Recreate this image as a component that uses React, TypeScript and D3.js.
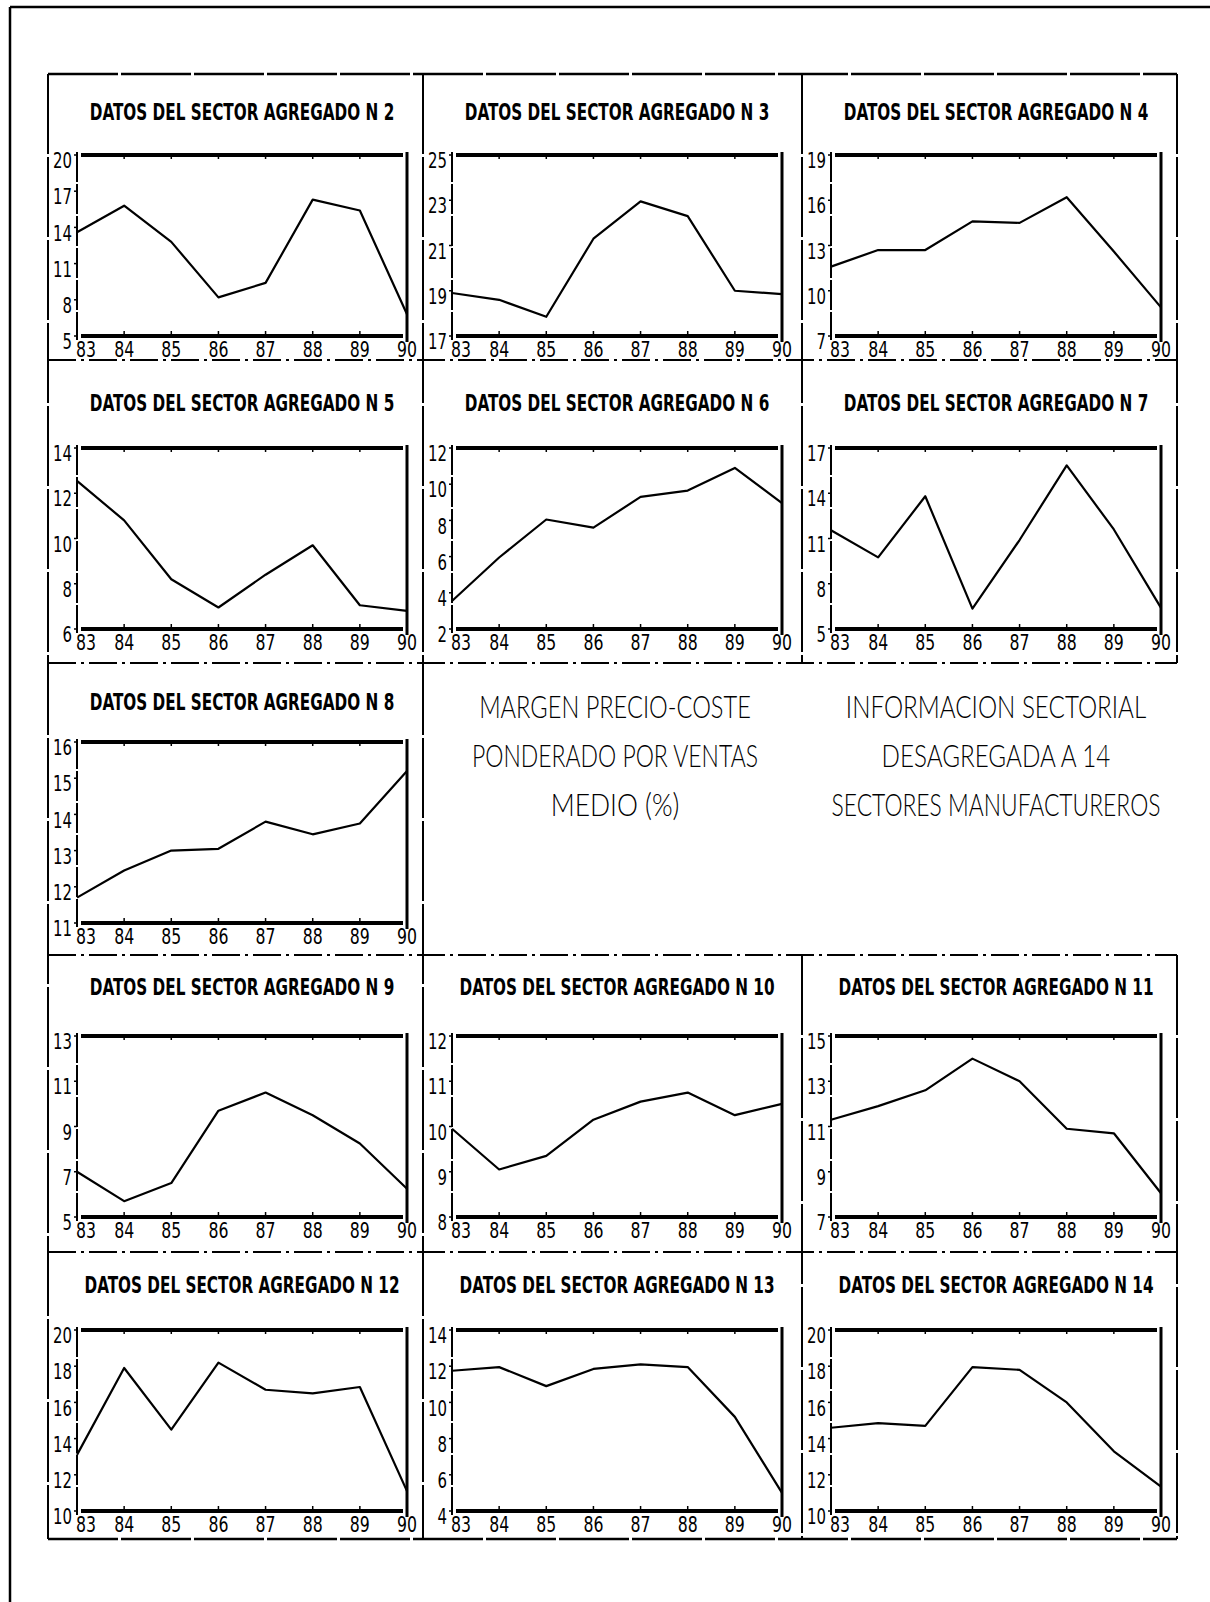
import React from "react";
import * as d3 from "d3";

// years on the x axis, shared by every panel
const years = ["83", "84", "85", "86", "87", "88", "89", "90"];

// margen precio-coste por sector agregado (%)
const sector2 = [13.6, 15.8, 12.8, 8.2, 9.4, 16.3, 15.4, 6.8];
const sector3 = [18.9, 18.6, 17.85, 21.3, 22.95, 22.3, 19.0, 18.85];
const sector4 = [11.6, 12.7, 12.7, 14.6, 14.5, 16.2, 12.6, 8.9];
const sector5 = [12.55, 10.8, 8.2, 6.95, 8.4, 9.7, 7.05, 6.8];
const sector6 = [3.55, 5.95, 8.05, 7.6, 9.3, 9.65, 10.9, 8.95];
const sector7 = [11.55, 9.75, 13.8, 6.35, 10.9, 15.85, 11.6, 6.4];
const sector8 = [11.7, 12.45, 13.0, 13.05, 13.8, 13.45, 13.75, 15.2];
const sector9 = [7.0, 5.7, 6.5, 9.7, 10.5, 9.5, 8.25, 6.25];
const sector10 = [9.95, 9.05, 9.35, 10.15, 10.55, 10.75, 10.25, 10.5];
const sector11 = [11.3, 11.9, 12.6, 14.0, 13.0, 10.9, 10.7, 8.05];
const sector12 = [13.1, 17.9, 14.5, 18.2, 16.7, 16.5, 16.85, 11.1];
const sector13 = [11.75, 11.95, 10.9, 11.85, 12.1, 11.95, 9.2, 5.0];
const sector14 = [14.6, 14.85, 14.7, 17.95, 17.8, 16.0, 13.3, 11.35];

// y tick labels of each panel
const ticks2 = [5, 8, 11, 14, 17, 20];
const ticks3 = [17, 19, 21, 23, 25];
const ticks4 = [7, 10, 13, 16, 19];
const ticks5 = [6, 8, 10, 12, 14];
const ticks6 = [2, 4, 6, 8, 10, 12];
const ticks7 = [5, 8, 11, 14, 17];
const ticks8 = [11, 12, 13, 14, 15, 16];
const ticks9 = [5, 7, 9, 11, 13];
const ticks10 = [8, 9, 10, 11, 12];
const ticks11 = [7, 9, 11, 13, 15];
const ticks12 = [10, 12, 14, 16, 18, 20];
const ticks13 = [4, 6, 8, 10, 12, 14];
const ticks14 = [10, 12, 14, 16, 18, 20];

const leftNote = ["MARGEN PRECIO-COSTE", "PONDERADO POR VENTAS", "MEDIO (%)"];
const rightNote = ["INFORMACION SECTORIAL", "DESAGREGADA A 14", "SECTORES MANUFACTUREROS"];

const W = 1210;
const H = 1602;

// page layout
const ROWS = [
  {top: 74, title: 112, plot: 155},
  {top: 360, title: 403, plot: 448},
  {top: 663, title: 702, plot: 742},
  {top: 955, title: 987, plot: 1036},
  {top: 1252, title: 1285, plot: 1330},
];
const COLS = [48, 423, 802];
const GRID_R = 1177;
const GRID_B = 1539;
const PLOT_H = 181;

const panels = [
  {n: 2, values: sector2, ticks: ticks2, row: 0, col: 0},
  {n: 3, values: sector3, ticks: ticks3, row: 0, col: 1},
  {n: 4, values: sector4, ticks: ticks4, row: 0, col: 2},
  {n: 5, values: sector5, ticks: ticks5, row: 1, col: 0},
  {n: 6, values: sector6, ticks: ticks6, row: 1, col: 1},
  {n: 7, values: sector7, ticks: ticks7, row: 1, col: 2},
  {n: 8, values: sector8, ticks: ticks8, row: 2, col: 0},
  {n: 9, values: sector9, ticks: ticks9, row: 3, col: 0},
  {n: 10, values: sector10, ticks: ticks10, row: 3, col: 1},
  {n: 11, values: sector11, ticks: ticks11, row: 3, col: 2},
  {n: 12, values: sector12, ticks: ticks12, row: 4, col: 0},
  {n: 13, values: sector13, ticks: ticks13, row: 4, col: 1},
  {n: 14, values: sector14, ticks: ticks14, row: 4, col: 2},
];

const LABEL_FONT = "'DejaVu Sans Condensed', 'DejaVu Sans', sans-serif";

// tall, narrow text like the plotter lettering
const Tall = ({x, y, anchor, size, width, weight, family, children}:
                {
                  x: number, y: number, anchor: string, size: number, width: number,
                  weight?: number | string, family?: string, children: string
                }) => (
  <text
    transform={`translate(${x} ${y}) scale(1 1.25)`}
    textAnchor={anchor}
    dominantBaseline="central"
    fontFamily={family ?? LABEL_FONT}
    fontWeight={weight ?? "normal"}
    fontSize={size}
    textLength={width}
    lengthAdjust="spacingAndGlyphs"
  >
    {children}
  </text>
);

const Panel = ({n, values, ticks, row, col}:
                 { n: number, values: number[], ticks: number[], row: number, col: number }) => {
  const x0 = COLS[col];
  const left = x0 + 29;
  const right = x0 + 359;
  const top = ROWS[row].plot;
  const bottom = top + PLOT_H;

  const x = d3.scalePoint<string>().domain(years).range([left, right]).padding(0);
  const y = d3.scaleLinear()
    .domain(d3.extent(ticks) as [number, number])
    .range([bottom, top]);
  const line = d3.line<number>()
    .x((_, i) => x(years[i]) as number)
    .y(d => y(d));

  const title = `DATOS DEL SECTOR AGREGADO N ${n}`;

  return (
    <g>
      <Tall x={(left + right) / 2} y={ROWS[row].title} anchor="middle" size={18.5}
            width={title.length * 10.5} weight="bold">
        {title}
      </Tall>

      {/* frame: heavy top and bottom, lighter sides */}
      <line x1={left + 4} x2={right - 4} y1={top} y2={top} stroke="#000" strokeWidth={4}/>
      <line x1={left + 4} x2={right - 4} y1={bottom} y2={bottom} stroke="#000" strokeWidth={4}/>
      <line x1={left} x2={left} y1={top - 3} y2={bottom + 4} stroke="#000" strokeWidth={2}
            strokeDasharray="30 2"/>
      <line x1={right} x2={right} y1={top - 3} y2={bottom + 6} stroke="#000" strokeWidth={3}/>

      {years.map((yr, i) => (
        <g key={yr}>
          <line x1={x(yr)} x2={x(yr)} y1={bottom} y2={bottom - 5} stroke="#000" strokeWidth={1.5}/>
          <line x1={x(yr)} x2={x(yr)} y1={top} y2={top + 4} stroke="#000" strokeWidth={1.5}/>
          <Tall x={(x(yr) as number) + (i === 0 ? 9 : 0)} y={bottom + 14} anchor="middle"
                size={17} width={20}>
            {yr}
          </Tall>
        </g>
      ))}

      {ticks.map(t => (
        <g key={t}>
          <line x1={left - 3} x2={left} y1={y(t)} y2={y(t)} stroke="#000" strokeWidth={1.5}/>
          <Tall x={left - 5} y={y(t) + 6} anchor="end" size={17} width={String(t).length * 9.5}>
            {String(t)}
          </Tall>
        </g>
      ))}

      <path d={line(values) ?? ""} fill="none" stroke="#000" strokeWidth={2.2} strokeLinejoin="round"/>
    </g>
  );
};

const Note = ({lines, cx}: { lines: string[], cx: number }) => (
  <g>
    {lines.map((s, i) => (
      <Tall key={s} x={cx} y={706 + i * 49} anchor="middle" size={24.5} width={s.length * 14.3}
            weight={300} family="Lato, 'DejaVu Sans', sans-serif">
        {s}
      </Tall>
    ))}
  </g>
);

const App = () => {
  const dividers = [ROWS[1].top, ROWS[2].top, ROWS[3].top, ROWS[4].top];
  return (
    <svg
      width={W}
      height={H}
      style={{position: "absolute", left: 0, top: 0, background: "#fff"}}
    >
      <rect x={0} y={0} width={W} height={H} fill="#fff"/>

      {/* page frame */}
      <line x1={10} x2={W} y1={7} y2={7} stroke="#000" strokeWidth={2.5}/>
      <line x1={10} x2={10} y1={7} y2={H} stroke="#000" strokeWidth={2.5}/>

      {/* grid */}
      <line x1={COLS[0]} x2={GRID_R} y1={ROWS[0].top} y2={ROWS[0].top} stroke="#000" strokeWidth={2.5}
            strokeDasharray="70 3"/>
      <line x1={COLS[0]} x2={GRID_R} y1={GRID_B} y2={GRID_B} stroke="#000" strokeWidth={2.5}
            strokeDasharray="70 3"/>
      {dividers.map(d => (
        <line key={d} x1={COLS[0]} x2={GRID_R} y1={d} y2={d} stroke="#000" strokeWidth={2}
              strokeDasharray="28 5 3 5"/>
      ))}
      <line x1={COLS[0]} x2={COLS[0]} y1={ROWS[0].top} y2={GRID_B} stroke="#000" strokeWidth={2}
            strokeDasharray="80 3"/>
      <line x1={COLS[1]} x2={COLS[1]} y1={ROWS[0].top} y2={GRID_B} stroke="#000" strokeWidth={2}
            strokeDasharray="80 3"/>
      {[COLS[2], GRID_R].map(cx => (
        <g key={cx}>
          <line x1={cx} x2={cx} y1={ROWS[0].top} y2={ROWS[2].top} stroke="#000" strokeWidth={2}
                strokeDasharray="80 3"/>
          <line x1={cx} x2={cx} y1={ROWS[3].top} y2={GRID_B} stroke="#000" strokeWidth={2}
                strokeDasharray="80 3"/>
        </g>
      ))}

      {panels.map(p => <Panel key={p.n} {...p}/>)}

      <Note lines={leftNote} cx={615}/>
      <Note lines={rightNote} cx={996}/>
    </svg>
  );
};

export default App;
